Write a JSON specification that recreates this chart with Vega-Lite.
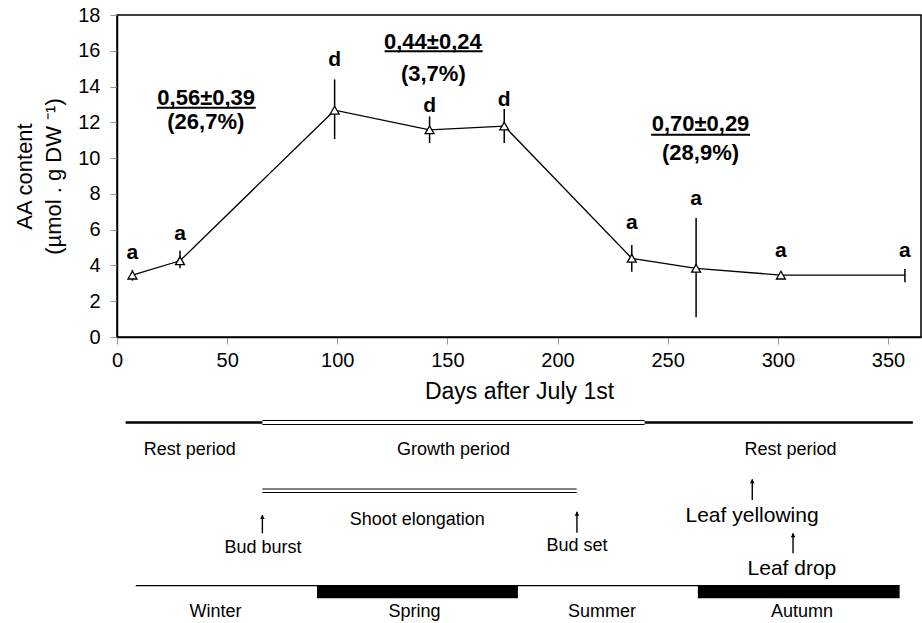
{
  "$schema": "https://vega.github.io/schema/vega-lite/v6.json",
  "padding": {"left": 13, "top": 4, "right": 0, "bottom": 0},
  "spacing": 14,
  "datasets": {
    "aa": [
      {"day": 7.0, "value": 3.46, "lo": 3.15, "hi": 3.75, "letter": "a", "letter_y": 4.36},
      {"day": 28.6, "value": 4.26, "lo": 3.84, "hi": 4.82, "letter": "a", "letter_y": 5.44},
      {"day": 98.8, "value": 12.68, "lo": 11.06, "hi": 14.4, "letter": "d", "letter_y": 15.16},
      {"day": 141.9, "value": 11.58, "lo": 10.84, "hi": 12.33, "letter": "d", "letter_y": 12.55},
      {"day": 175.8, "value": 11.79, "lo": 10.84, "hi": 12.74, "letter": "d", "letter_y": 12.92},
      {"day": 233.7, "value": 4.40, "lo": 3.65, "hi": 5.14, "letter": "a", "letter_y": 6.03},
      {"day": 262.9, "value": 3.84, "lo": 1.1, "hi": 6.65, "letter": "a", "letter_y": 7.39},
      {"day": 301.4, "value": 3.46, "lo": null, "hi": null, "letter": "a", "letter_y": 4.45},
      {"day": 357.7, "value": 3.46, "lo": 3.06, "hi": 3.8, "letter": "a", "letter_y": 4.45}
    ],
    "notes": [
      {"day": 40.5, "value": 12.96, "label": "0,56±0,39"},
      {"day": 40.3, "value": 11.62, "label": "(26,7%)"},
      {"day": 143.4, "value": 16.09, "label": "0,44±0,24"},
      {"day": 143.6, "value": 14.32, "label": "(3,7%)"},
      {"day": 264.9, "value": 11.53, "label": "0,70±0,29"},
      {"day": 264.9, "value": 9.9, "label": "(28,9%)"}
    ],
    "underlines": [
      {"day": 18.1, "day2": 63.0, "value": 12.82},
      {"day": 121.5, "day2": 166.0, "value": 15.98},
      {"day": 242.5, "day2": 287.4, "value": 11.3}
    ],
    "rest_lines": [
      {"x": 3.9, "x2": 66, "y": 4.5},
      {"x": 239.5, "x2": 361.3, "y": 4.5}
    ],
    "double_lines": [
      {"x": 66, "x2": 239.5, "y": 2.5},
      {"x": 66, "x2": 239.5, "y": 6.5},
      {"x": 66, "x2": 208.7, "y": 71},
      {"x": 66, "x2": 208.7, "y": 74.5}
    ],
    "season_line": [{"x": 8.5, "x2": 355.3, "y": 167.7}],
    "season_bars": [
      {"season": "Spring", "x": 90.8, "x2": 182, "y": 167.7, "y2": 180.3},
      {"season": "Autumn", "x": 263.7, "x2": 355.3, "y": 167.7, "y2": 180.3}
    ],
    "arrows": [
      {"event": "Bud burst", "x": 66, "top": 97, "bottom": 115.3},
      {"event": "Bud set", "x": 208.8, "top": 93.7, "bottom": 114.7},
      {"event": "Leaf yellowing", "x": 288.4, "top": 61.3, "bottom": 82},
      {"event": "Leaf drop", "x": 306.9, "top": 115.3, "bottom": 135.3}
    ],
    "small_labels": [
      {"x": 33.0, "y": 37, "label": "Rest period"},
      {"x": 152.8, "y": 37, "label": "Growth  period"},
      {"x": 305.8, "y": 37, "label": "Rest period"},
      {"x": 136.3, "y": 107, "label": "Shoot elongation"},
      {"x": 66.3, "y": 134.7, "label": "Bud burst"},
      {"x": 208.8, "y": 132.7, "label": "Bud set"},
      {"x": 44.7, "y": 199.3, "label": "Winter"},
      {"x": 135.1, "y": 199.3, "label": "Spring"},
      {"x": 220.2, "y": 199.3, "label": "Summer"},
      {"x": 311.0, "y": 199.3, "label": "Autumn"}
    ],
    "big_labels": [
      {"x": 288.3, "y": 103.7, "label": "Leaf yellowing"},
      {"x": 306.4, "y": 157, "label": "Leaf drop"}
    ]
  },
  "vconcat": [
    {
      "width": 804,
      "height": 322,
      "encoding": {
        "x": {"field": "day", "type": "quantitative", "scale": {"domain": [0, 365], "nice": false},
              "axis": {"title": "Days after July 1st", "values": [0, 50, 100, 150, 200, 250, 300, 350], "labelFlush": false, "labelOverlap": false, "labelPadding": 6, "titlePadding": 10, "titleFontSize": 23}}
      },
      "layer": [
        {
          "data": {"name": "aa"},
          "transform": [{"filter": "datum.lo != null"}],
          "mark": {"type": "rule", "color": "black", "strokeWidth": 1.5},
          "encoding": {
            "y": {"field": "lo", "type": "quantitative", "scale": {"domain": [0, 18], "nice": false},
                  "axis": {"title": ["AA content", "(µmol . g DW ⁻¹)"], "values": [0, 2, 4, 6, 8, 10, 12, 14, 16, 18], "labelOverlap": false, "labelFlush": false, "labelPadding": 10, "titlePadding": 12, "titleLineHeight": 29}},
            "y2": {"field": "hi"}
          }
        },
        {
          "data": {"name": "aa"},
          "mark": {"type": "line", "color": "black", "strokeWidth": 1.3},
          "encoding": {
            "y": {"field": "value", "type": "quantitative", "scale": {"domain": [0, 18], "nice": false},
                  "axis": {"title": ["AA content", "(µmol . g DW ⁻¹)"], "values": [0, 2, 4, 6, 8, 10, 12, 14, 16, 18], "labelOverlap": false, "labelFlush": false, "labelPadding": 10, "titlePadding": 12, "titleLineHeight": 29}}
          }
        },
        {
          "data": {"name": "aa"},
          "transform": [{"filter": "datum.day < 350"}],
          "mark": {"type": "point", "shape": "triangle-up", "filled": true, "fill": "white", "stroke": "black", "strokeWidth": 1.3, "size": 80, "opacity": 1},
          "encoding": {
            "y": {"field": "value", "type": "quantitative", "scale": {"domain": [0, 18], "nice": false},
                  "axis": {"title": ["AA content", "(µmol . g DW ⁻¹)"], "values": [0, 2, 4, 6, 8, 10, 12, 14, 16, 18], "labelOverlap": false, "labelFlush": false, "labelPadding": 10, "titlePadding": 12, "titleLineHeight": 29}}
          }
        },
        {
          "data": {"name": "aa"},
          "mark": {"type": "text", "fontWeight": "bold", "fontSize": 21, "baseline": "alphabetic", "align": "center", "color": "black"},
          "encoding": {
            "y": {"field": "letter_y", "type": "quantitative", "scale": {"domain": [0, 18], "nice": false},
                  "axis": {"title": ["AA content", "(µmol . g DW ⁻¹)"], "values": [0, 2, 4, 6, 8, 10, 12, 14, 16, 18], "labelOverlap": false, "labelFlush": false, "labelPadding": 10, "titlePadding": 12, "titleLineHeight": 29}},
            "text": {"field": "letter"}
          }
        },
        {
          "data": {"name": "notes"},
          "mark": {"type": "text", "fontWeight": "bold", "fontSize": 22, "baseline": "alphabetic", "align": "center", "color": "black"},
          "encoding": {
            "y": {"field": "value", "type": "quantitative", "scale": {"domain": [0, 18], "nice": false},
                  "axis": {"title": ["AA content", "(µmol . g DW ⁻¹)"], "values": [0, 2, 4, 6, 8, 10, 12, 14, 16, 18], "labelOverlap": false, "labelFlush": false, "labelPadding": 10, "titlePadding": 12, "titleLineHeight": 29}},
            "text": {"field": "label"}
          }
        },
        {
          "data": {"name": "underlines"},
          "mark": {"type": "rule", "color": "black", "strokeWidth": 2},
          "encoding": {
            "x2": {"field": "day2"},
            "y": {"field": "value", "type": "quantitative", "scale": {"domain": [0, 18], "nice": false},
                  "axis": {"title": ["AA content", "(µmol . g DW ⁻¹)"], "values": [0, 2, 4, 6, 8, 10, 12, 14, 16, 18], "labelOverlap": false, "labelFlush": false, "labelPadding": 10, "titlePadding": 12, "titleLineHeight": 29}}
          }
        }
      ]
    },
    {
      "width": 804,
      "height": 205,
      "view": {"stroke": null},
      "encoding": {
        "x": {"field": "x", "type": "quantitative", "scale": {"domain": [0, 365], "nice": false}, "axis": null},
        "y": {"field": "y", "type": "quantitative", "scale": {"domain": [0, 205], "nice": false, "reverse": true}, "axis": null}
      },
      "layer": [
        {
          "data": {"name": "rest_lines"},
          "mark": {"type": "rule", "color": "black", "strokeWidth": 2.5},
          "encoding": {"x2": {"field": "x2"}}
        },
        {
          "data": {"name": "double_lines"},
          "mark": {"type": "rule", "color": "black", "strokeWidth": 1.2},
          "encoding": {"x2": {"field": "x2"}}
        },
        {
          "data": {"name": "season_line"},
          "mark": {"type": "rule", "color": "black", "strokeWidth": 1.2},
          "encoding": {"x2": {"field": "x2"}}
        },
        {
          "data": {"name": "season_bars"},
          "mark": {"type": "rect", "color": "black"},
          "encoding": {"x2": {"field": "x2"}, "y2": {"field": "y2"}}
        },
        {
          "data": {"name": "arrows"},
          "mark": {"type": "rule", "color": "black", "strokeWidth": 1.4},
          "encoding": {"y": {"field": "top", "type": "quantitative"}, "y2": {"field": "bottom"}}
        },
        {
          "data": {"name": "arrows"},
          "mark": {"type": "point", "shape": "triangle-up", "filled": true, "color": "black", "size": 22, "opacity": 1, "yOffset": 2},
          "encoding": {"y": {"field": "top", "type": "quantitative"}}
        },
        {
          "data": {"name": "small_labels"},
          "mark": {"type": "text", "fontSize": 18, "baseline": "alphabetic", "align": "center", "color": "black"},
          "encoding": {"text": {"field": "label"}}
        },
        {
          "data": {"name": "big_labels"},
          "mark": {"type": "text", "fontSize": 21, "baseline": "alphabetic", "align": "center", "color": "black"},
          "encoding": {"text": {"field": "label"}}
        }
      ]
    }
  ],
  "config": {
    "font": "Liberation Sans",
    "view": {"stroke": "black", "strokeWidth": 1.5},
    "axis": {
      "grid": false,
      "domainColor": "black",
      "domainWidth": 1.5,
      "tickColor": "#999999",
      "tickSize": 7,
      "labelFontSize": 20,
      "labelColor": "black",
      "labelFont": "Liberation Sans",
      "titleFont": "Liberation Sans",
      "titleFontSize": 22,
      "titleFontWeight": "normal",
      "titleColor": "black"
    },
    "axisY": {"labelOverlap": false}
  }
}
